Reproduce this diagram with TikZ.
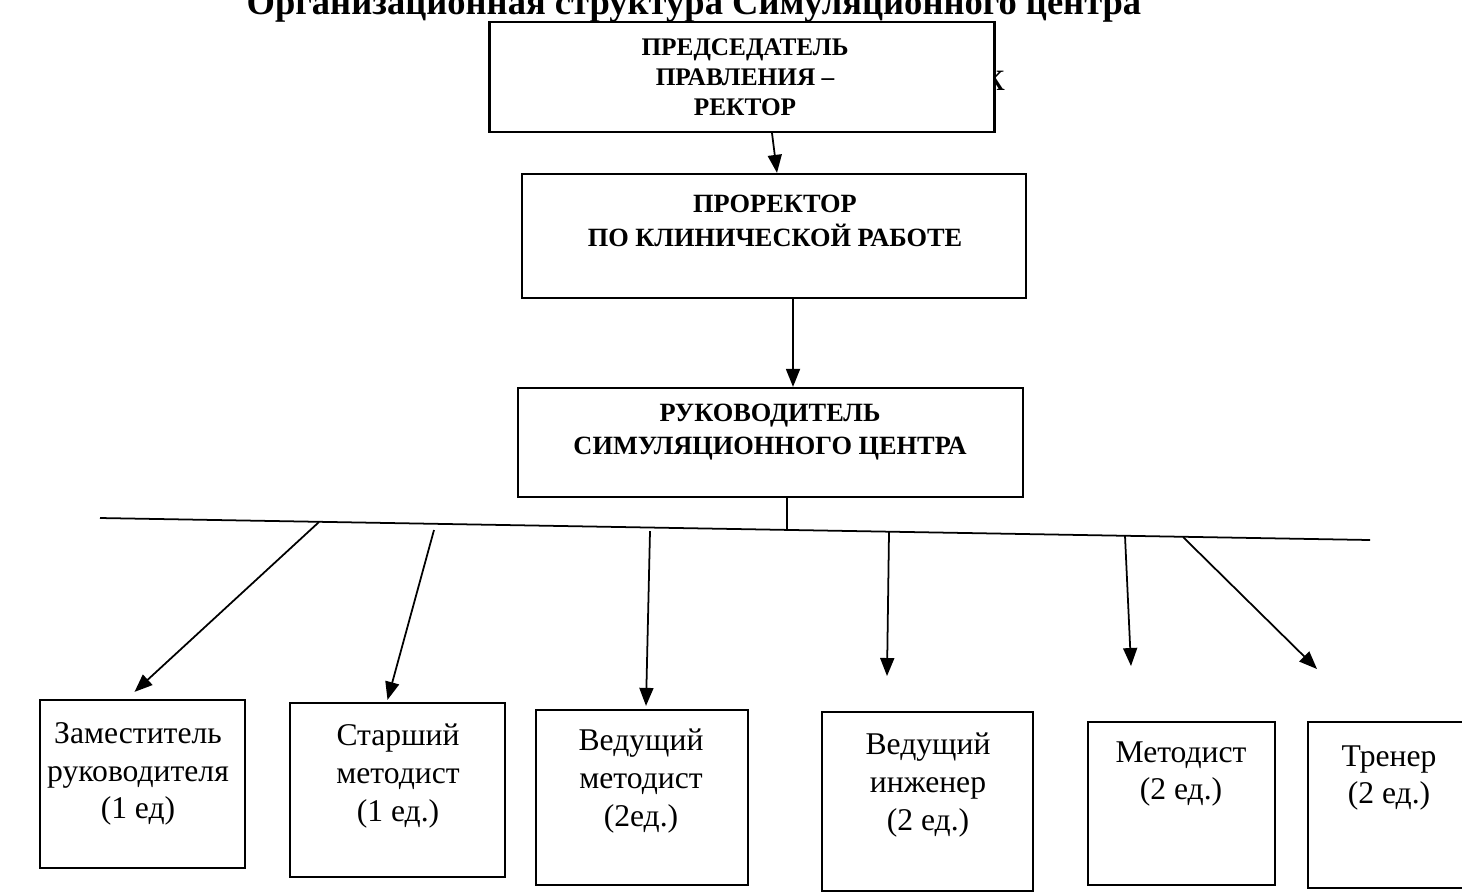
\documentclass[tikz,border=0pt]{standalone}
\usepackage{fontspec}
\setmainfont{Liberation Serif}
\usetikzlibrary{arrows.meta,calc}

\begin{document}
\begin{tikzpicture}[x=0.02cm,y=-0.02cm,
  box/.style={draw, line width=1.3pt, fill=white, inner sep=0pt},
  head/.style={align=center, font=\bfseries\fontsize{15}{19}\selectfont},
  unit/.style={align=center, font=\fontsize{18}{21.5}\selectfont},
  link/.style={line width=1pt, -{Triangle[length=0.36cm,width=0.28cm]}}]
\useasboundingbox (0,0) rectangle (1462,894);

\node[anchor=base, font=\bfseries\fontsize{20.8}{24}\selectfont] (title) at (694,14) {Организационная структура Симуляционного центра};
\node[anchor=base, font=\fontsize{24}{26}\selectfont] (stray) at (995,90) {к};

% top of the chart
\node[box, minimum width=10.1cm, minimum height=2.2cm] (pred) at (742,77) {};
\node[head, font=\bfseries\fontsize{14.4}{17}\selectfont] (predt) at (745,77) {ПРЕДСЕДАТЕЛЬ\\ПРАВЛЕНИЯ –\\РЕКТОР};
\node[box, minimum width=10.08cm, minimum height=2.48cm] (prorek) at (774,236) {};
\node[head] (prorekt) at (775,221) {ПРОРЕКТОР\\ПО КЛИНИЧЕСКОЙ РАБОТЕ};
\node[box, minimum width=10.1cm, minimum height=2.18cm] (ruk) at (770.5,442.5) {};
\node[head] (rukt) at (770,432) {РУКОВОДИТЕЛЬ\\СИМУЛЯЦИОННОГО ЦЕНТРА};

\draw[link] ($(pred.south)+(30,0)$) -- ($(prorek.north)+(3,0)$);
\draw[link] ($(prorek.south)+(19,0)$) -- ($(ruk.north)+(22.5,0)$);

% bus line
\coordinate (busl) at (100,518);
\coordinate (busr) at (1370,540);
\coordinate (hub) at (787,530);
\draw[line width=1pt] (busl) -- (busr);
\draw[line width=1pt] (hub |- ruk.south) -- (hub);

% staff units
\node[box, minimum width=4.1cm, minimum height=3.36cm] (zam) at (142.5,784) {};
\node[unit] (zamt) at (138,774) {Заместитель\\руководителя\\(1 ед)};
\node[box, minimum width=4.3cm, minimum height=3.48cm] (starsh) at (397.5,790) {};
\node[unit] (starsht) at (398,776) {Старший\\методист\\(1 ед.)};
\node[box, minimum width=4.24cm, minimum height=3.5cm] (vedmet) at (642,797.5) {};
\node[unit] (vedmett) at (641,781) {Ведущий\\методист\\(2ед.)};
\node[box, minimum width=4.22cm, minimum height=3.58cm] (vedinzh) at (927.5,801.5) {};
\node[unit] (vedinzht) at (928,785) {Ведущий\\инженер\\(2 ед.)};
\node[box, minimum width=3.74cm, minimum height=3.26cm] (metod) at (1181.5,803.5) {};
\node[unit] (metodt) at (1181,774) {Методист\\(2 ед.)};
\node[box, minimum width=3.34cm, minimum height=3.32cm] (trener) at (1391.5,805) {};
\node[unit] (trenert) at (1389,778) {Тренер\\(2 ед.)};

\coordinate (b1) at (319,522);
\coordinate (b2) at (434,530);
\coordinate (b3) at (650,531);
\coordinate (b4) at (889,532);
\coordinate (b5) at (1125,536);
\coordinate (b6) at (1183,537);
\coordinate (e4) at (887,676);
\coordinate (e5) at (1131,666);
\coordinate (e6) at (1317,669);

\draw[link] (b1) -- ($(zam.north)+(-8,-7)$);
\draw[link] (b2) -- ($(starsh.north)+(-10,-2)$);
\draw[link] (b3) -- ($(vedmet.north)+(4,-3)$);
\draw[link] (b4) -- (e4);
\draw[link] (b5) -- (e5);
\draw[link] (b6) -- (e6);
\end{tikzpicture}
\end{document}
